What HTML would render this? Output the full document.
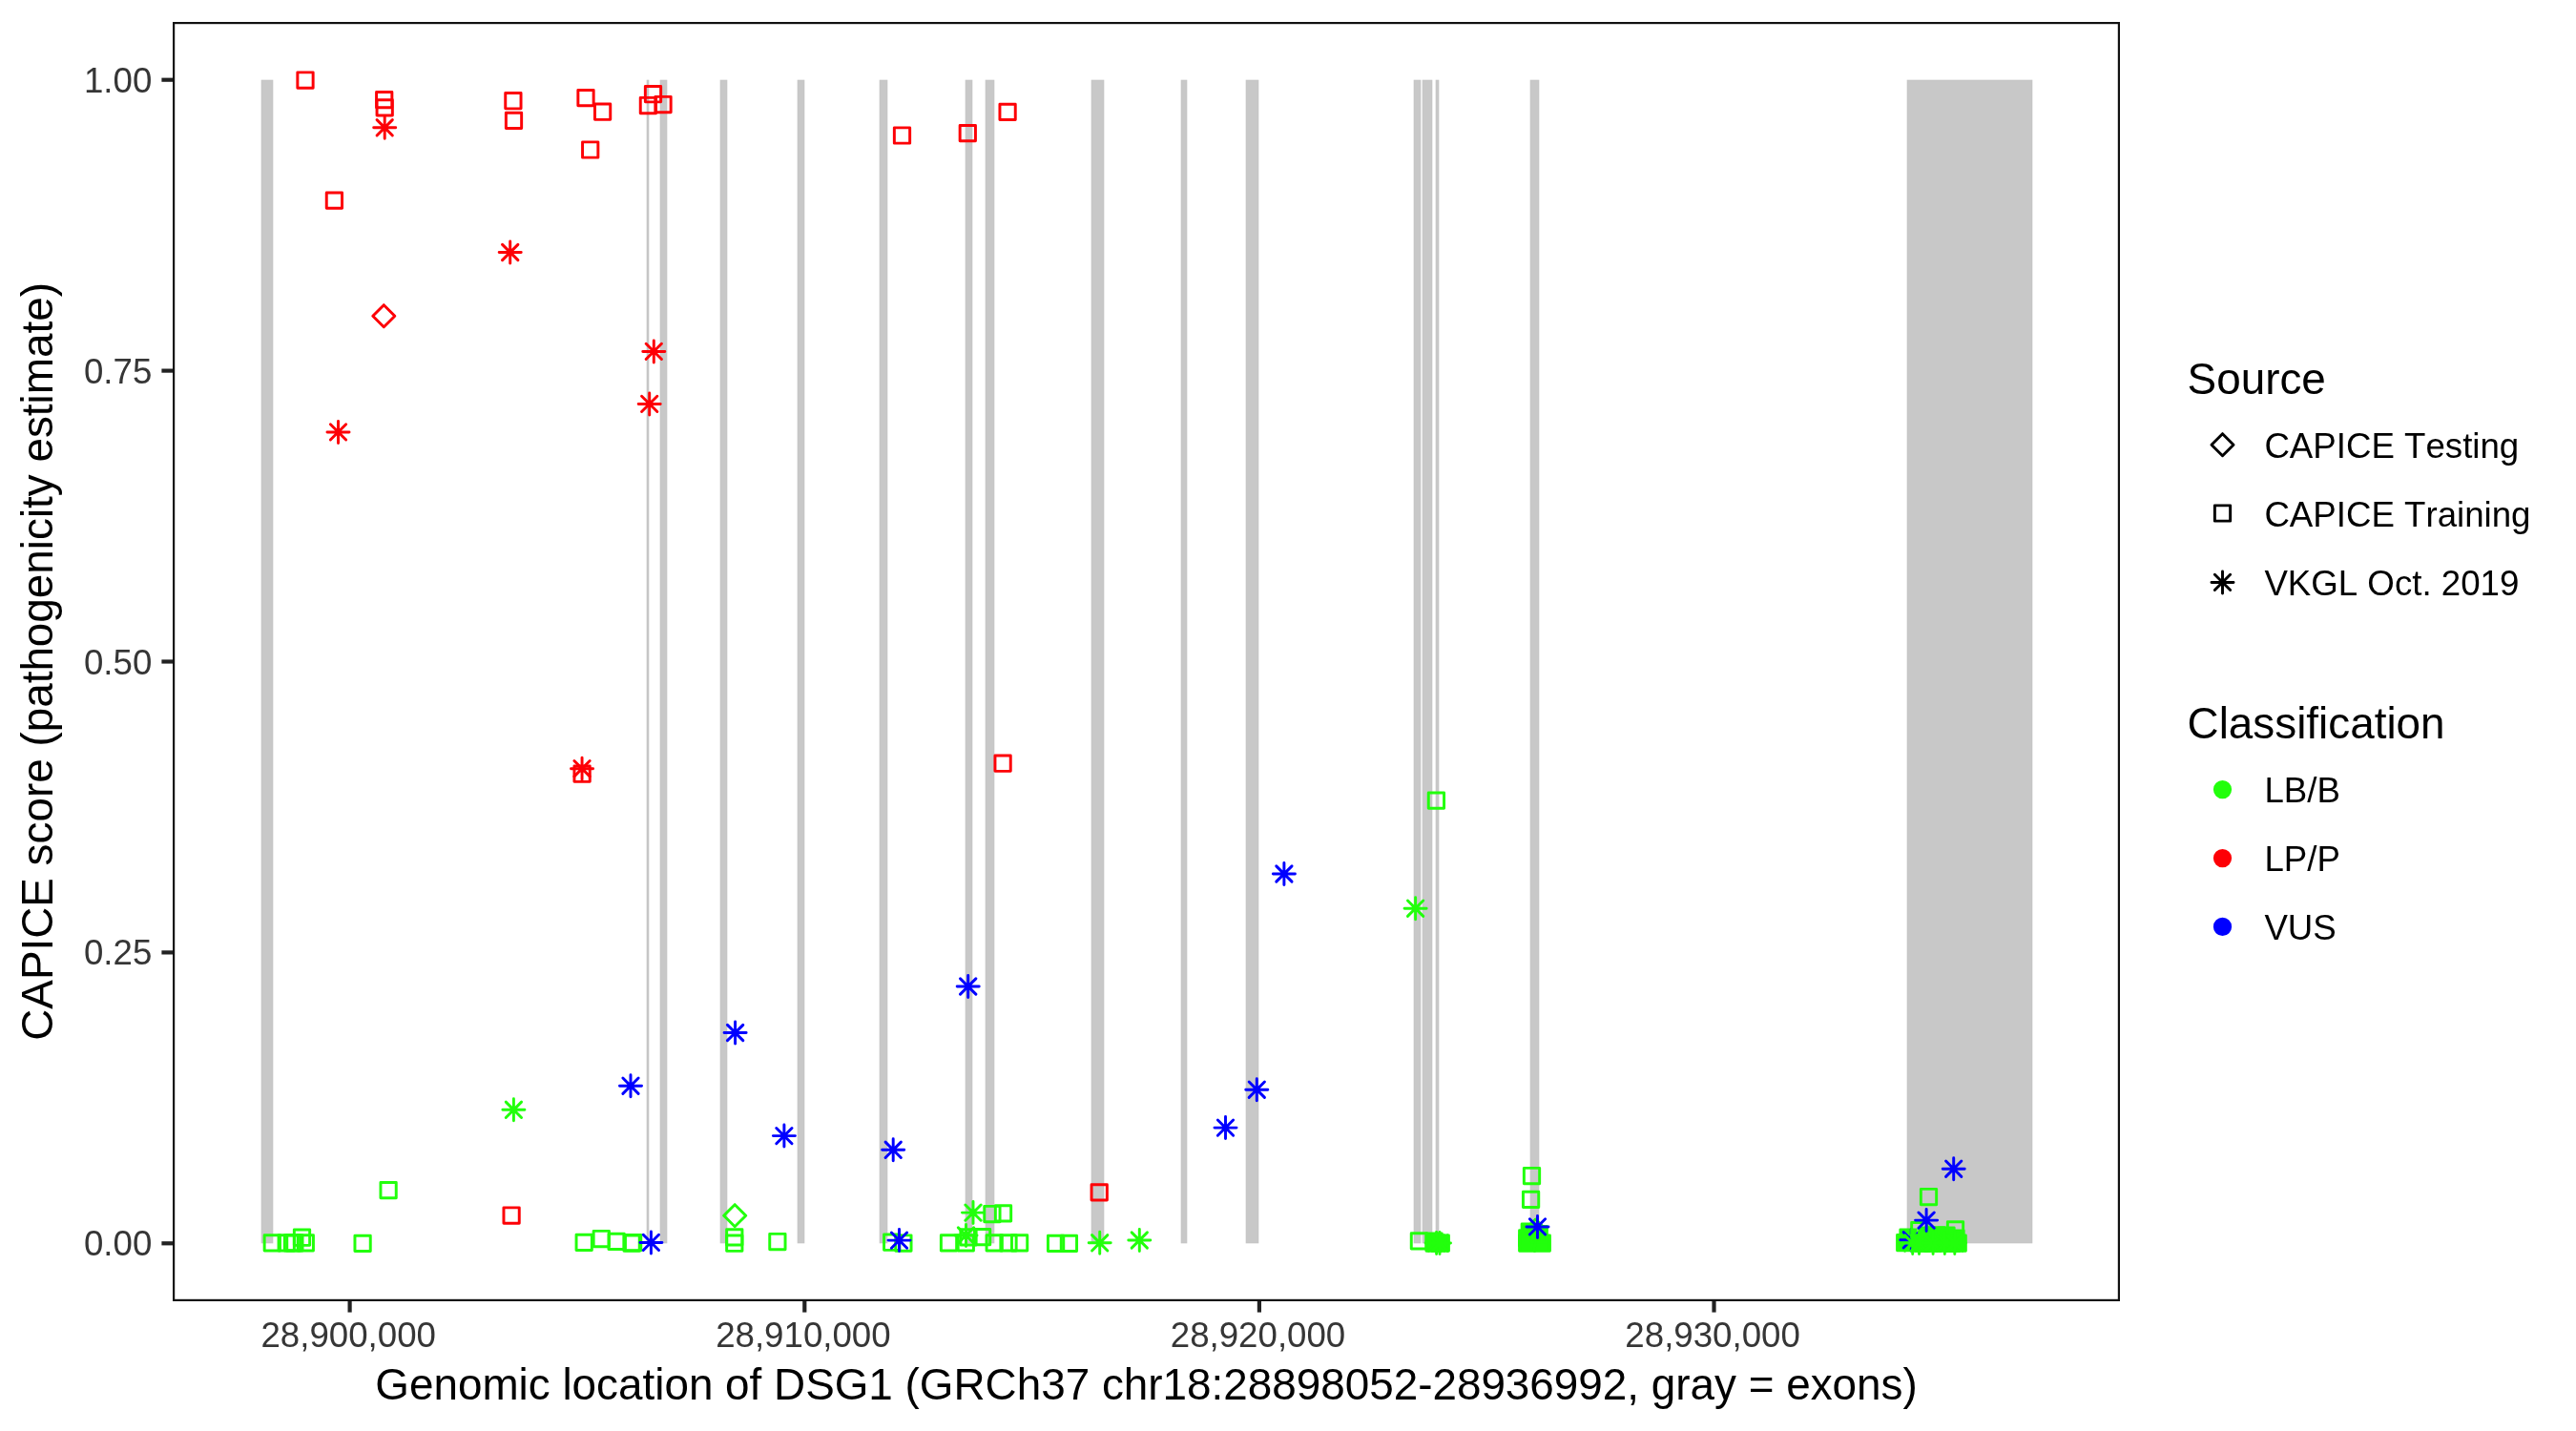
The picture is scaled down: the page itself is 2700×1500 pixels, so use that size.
<!DOCTYPE html>
<html><head><meta charset="utf-8"><title>CAPICE DSG1</title>
<style>
html,body{margin:0;padding:0;background:#fff;}
svg{display:block;will-change:transform;}
text{font-family:"Liberation Sans",sans-serif;font-kerning:none;font-feature-settings:"kern" 0;}
</style></head><body>
<svg width="2700" height="1500" viewBox="0 0 2700 1500">
<rect x="0" y="0" width="2700" height="1500" fill="#FFFFFF"/>
<g fill="#C8C8C8" stroke="#C4C4C4" stroke-width="0.6">
<rect x="274" y="84" width="12" height="1219"/>
<rect x="678" y="84" width="2" height="1219"/>
<rect x="692" y="84" width="7" height="1219"/>
<rect x="755" y="84" width="7" height="1219"/>
<rect x="836" y="84" width="7" height="1219"/>
<rect x="922" y="84" width="8" height="1219"/>
<rect x="1012" y="84" width="7" height="1219"/>
<rect x="1033" y="84" width="9" height="1219"/>
<rect x="1144" y="84" width="13" height="1219"/>
<rect x="1238" y="84" width="6" height="1219"/>
<rect x="1306" y="84" width="13" height="1219"/>
<rect x="1482" y="84" width="7" height="1219"/>
<rect x="1491" y="84" width="10" height="1219"/>
<rect x="1505" y="84" width="3" height="1219"/>
<rect x="1604" y="84" width="9" height="1219"/>
<rect x="1999" y="84" width="131" height="1219"/>
</g>
<g stroke-width="2.95" stroke-linecap="round" stroke-linejoin="round">
<rect x="277.16" y="1294.76" width="16.29" height="16.29" fill="none" stroke="#22FF0C"/>
<rect x="292.06" y="1294.76" width="16.29" height="16.29" fill="none" stroke="#22FF0C"/>
<rect x="298.36" y="1294.76" width="16.29" height="16.29" fill="none" stroke="#22FF0C"/>
<rect x="300.75" y="1294.76" width="16.29" height="16.29" fill="none" stroke="#22FF0C"/>
<rect x="312.16" y="1294.76" width="16.29" height="16.29" fill="none" stroke="#22FF0C"/>
<rect x="308.36" y="1289.06" width="16.29" height="16.29" fill="none" stroke="#22FF0C"/>
<rect x="371.96" y="1295.15" width="16.29" height="16.29" fill="none" stroke="#22FF0C"/>
<rect x="398.96" y="1239.45" width="16.29" height="16.29" fill="none" stroke="#22FF0C"/>
<rect x="604.06" y="1294.26" width="16.29" height="16.29" fill="none" stroke="#22FF0C"/>
<rect x="622.15" y="1290.36" width="16.29" height="16.29" fill="none" stroke="#22FF0C"/>
<rect x="637.96" y="1293.15" width="16.29" height="16.29" fill="none" stroke="#22FF0C"/>
<rect x="653.96" y="1294.95" width="16.29" height="16.29" fill="none" stroke="#22FF0C"/>
<rect x="655.46" y="1294.45" width="16.29" height="16.29" fill="none" stroke="#22FF0C"/>
<rect x="761.65" y="1288.65" width="16.29" height="16.29" fill="none" stroke="#22FF0C"/>
<rect x="761.65" y="1295.06" width="16.29" height="16.29" fill="none" stroke="#22FF0C"/>
<rect x="806.75" y="1293.36" width="16.29" height="16.29" fill="none" stroke="#22FF0C"/>
<path d="M770.2 1262.68L781.72 1274.2L770.2 1285.72L758.68 1274.2Z" fill="none" stroke="#22FF0C"/>
<rect x="926.56" y="1294.06" width="16.29" height="16.29" fill="none" stroke="#22FF0C"/>
<rect x="938.75" y="1294.86" width="16.29" height="16.29" fill="none" stroke="#22FF0C"/>
<path d="M530.25 1155.15L546.54 1171.44M530.25 1171.44L546.54 1155.15M526.88 1163.3L549.92 1163.3M538.4 1151.78L538.4 1174.82" fill="none" stroke="#22FF0C"/>
<rect x="986.36" y="1294.76" width="16.29" height="16.29" fill="none" stroke="#22FF0C"/>
<rect x="1004.15" y="1294.76" width="16.29" height="16.29" fill="none" stroke="#22FF0C"/>
<rect x="1034.06" y="1294.76" width="16.29" height="16.29" fill="none" stroke="#22FF0C"/>
<rect x="1048.86" y="1294.76" width="16.29" height="16.29" fill="none" stroke="#22FF0C"/>
<rect x="1060.45" y="1294.76" width="16.29" height="16.29" fill="none" stroke="#22FF0C"/>
<rect x="1006.86" y="1288.65" width="16.29" height="16.29" fill="none" stroke="#22FF0C"/>
<rect x="1021.45" y="1288.45" width="16.29" height="16.29" fill="none" stroke="#22FF0C"/>
<path d="M1004.36 1286.86L1020.64 1303.14M1004.36 1303.14L1020.64 1286.86M1000.98 1295L1024.02 1295M1012.5 1283.48L1012.5 1306.52" fill="none" stroke="#22FF0C"/>
<path d="M1011.86 1262.95L1028.14 1279.24M1011.86 1279.24L1028.14 1262.95M1008.48 1271.1L1031.52 1271.1M1020 1259.58L1020 1282.62" fill="none" stroke="#22FF0C"/>
<rect x="1031.76" y="1264.36" width="16.29" height="16.29" fill="none" stroke="#22FF0C"/>
<rect x="1043.36" y="1263.65" width="16.29" height="16.29" fill="none" stroke="#22FF0C"/>
<rect x="1098.45" y="1295.15" width="16.29" height="16.29" fill="none" stroke="#22FF0C"/>
<rect x="1112.26" y="1295.15" width="16.29" height="16.29" fill="none" stroke="#22FF0C"/>
<path d="M1144.56 1294.65L1160.85 1310.94M1144.56 1310.94L1160.85 1294.65M1141.18 1302.8L1164.22 1302.8M1152.7 1291.28L1152.7 1314.32" fill="none" stroke="#22FF0C"/>
<path d="M1186.15 1291.86L1202.44 1308.14M1186.15 1308.14L1202.44 1291.86M1182.78 1300L1205.82 1300M1194.3 1288.48L1194.3 1311.52" fill="none" stroke="#22FF0C"/>
<path d="M1475.45 944.06L1491.74 960.35M1475.45 960.35L1491.74 944.06M1472.08 952.2L1495.12 952.2M1483.6 940.68L1483.6 963.72" fill="none" stroke="#22FF0C"/>
<rect x="1497.26" y="830.96" width="16.29" height="16.29" fill="none" stroke="#22FF0C"/>
<rect x="1479.26" y="1292.76" width="16.29" height="16.29" fill="none" stroke="#22FF0C"/>
<rect x="1494.95" y="1292.86" width="16.29" height="16.29" fill="#22FF0C" stroke="#22FF0C"/>
<rect x="1494.95" y="1295.06" width="16.29" height="16.29" fill="#22FF0C" stroke="#22FF0C"/>
<rect x="1502.15" y="1295.06" width="16.29" height="16.29" fill="#22FF0C" stroke="#22FF0C"/>
<path d="M1497.45 1294.86L1513.74 1311.14M1497.45 1311.14L1513.74 1294.86M1494.08 1303L1517.12 1303M1505.6 1291.48L1505.6 1314.52" fill="none" stroke="#22FF0C"/>
<path d="M1500.86 1294.86L1517.14 1311.14M1500.86 1311.14L1517.14 1294.86M1497.48 1303L1520.52 1303M1509 1291.48L1509 1314.52" fill="none" stroke="#22FF0C"/>
<rect x="1597.36" y="1224.36" width="16.29" height="16.29" fill="none" stroke="#22FF0C"/>
<rect x="1596.45" y="1249.15" width="16.29" height="16.29" fill="none" stroke="#22FF0C"/>
<rect x="1592.56" y="1295.06" width="16.29" height="16.29" fill="#22FF0C" stroke="#22FF0C"/>
<rect x="1608.15" y="1295.06" width="16.29" height="16.29" fill="#22FF0C" stroke="#22FF0C"/>
<rect x="1595.15" y="1282.95" width="16.29" height="16.29" fill="#22FF0C" stroke="#22FF0C"/>
<rect x="1592.56" y="1289.65" width="16.29" height="16.29" fill="#22FF0C" stroke="#22FF0C"/>
<rect x="1605.06" y="1285.45" width="16.29" height="16.29" fill="#22FF0C" stroke="#22FF0C"/>
<path d="M1609.5 1278.08L1621.02 1289.6L1609.5 1301.12L1597.98 1289.6Z" fill="none" stroke="#22FF0C"/>
<rect x="2013.36" y="1246.36" width="16.29" height="16.29" fill="none" stroke="#22FF0C"/>
<rect x="1988.56" y="1294.56" width="16.29" height="16.29" fill="#22FF0C" stroke="#22FF0C"/>
<rect x="1991.86" y="1288.86" width="16.29" height="16.29" fill="#22FF0C" stroke="#22FF0C"/>
<path d="M1995.15 1291.65L2011.44 1307.94M1995.15 1307.94L2011.44 1291.65M1991.78 1299.8L2014.82 1299.8M2003.3 1288.28L2003.3 1311.32" fill="none" stroke="#0000FF"/>
<rect x="2006.26" y="1294.86" width="16.29" height="16.29" fill="#22FF0C" stroke="#22FF0C"/>
<rect x="2007.86" y="1294.86" width="16.29" height="16.29" fill="#22FF0C" stroke="#22FF0C"/>
<rect x="2017.86" y="1294.86" width="16.29" height="16.29" fill="#22FF0C" stroke="#22FF0C"/>
<rect x="2027.86" y="1294.86" width="16.29" height="16.29" fill="#22FF0C" stroke="#22FF0C"/>
<rect x="2037.86" y="1294.86" width="16.29" height="16.29" fill="#22FF0C" stroke="#22FF0C"/>
<rect x="2044.05" y="1294.86" width="16.29" height="16.29" fill="#22FF0C" stroke="#22FF0C"/>
<rect x="2011.86" y="1286.86" width="16.29" height="16.29" fill="#22FF0C" stroke="#22FF0C"/>
<rect x="2021.86" y="1286.65" width="16.29" height="16.29" fill="#22FF0C" stroke="#22FF0C"/>
<rect x="2031.86" y="1286.86" width="16.29" height="16.29" fill="#22FF0C" stroke="#22FF0C"/>
<rect x="2041.86" y="1289.86" width="16.29" height="16.29" fill="#22FF0C" stroke="#22FF0C"/>
<rect x="2003.65" y="1281.56" width="16.29" height="16.29" fill="none" stroke="#22FF0C"/>
<rect x="2041.36" y="1280.76" width="16.29" height="16.29" fill="none" stroke="#22FF0C"/>
<path d="M1996.56 1294.86L2012.85 1311.14M1996.56 1311.14L2012.85 1294.86M1993.18 1303L2016.22 1303M2004.7 1291.48L2004.7 1314.52" fill="none" stroke="#22FF0C"/>
<path d="M2003.36 1294.86L2019.64 1311.14M2003.36 1311.14L2019.64 1294.86M1999.98 1303L2023.02 1303M2011.5 1291.48L2011.5 1314.52" fill="none" stroke="#22FF0C"/>
<path d="M2017.95 1294.86L2034.24 1311.14M2017.95 1311.14L2034.24 1294.86M2014.58 1303L2037.62 1303M2026.1 1291.48L2026.1 1314.52" fill="none" stroke="#22FF0C"/>
<path d="M2030.15 1294.86L2046.44 1311.14M2030.15 1311.14L2046.44 1294.86M2026.78 1303L2049.82 1303M2038.3 1291.48L2038.3 1314.52" fill="none" stroke="#22FF0C"/>
<path d="M2040.66 1294.86L2056.95 1311.14M2040.66 1311.14L2056.95 1294.86M2037.28 1303L2060.32 1303M2048.8 1291.48L2048.8 1314.52" fill="none" stroke="#22FF0C"/>
<rect x="311.86" y="75.86" width="16.29" height="16.29" fill="none" stroke="#FD0006"/>
<rect x="394.56" y="96.45" width="16.29" height="16.29" fill="none" stroke="#FD0006"/>
<rect x="395.06" y="104.66" width="16.29" height="16.29" fill="none" stroke="#FD0006"/>
<rect x="529.75" y="97.56" width="16.29" height="16.29" fill="none" stroke="#FD0006"/>
<rect x="530.36" y="118.26" width="16.29" height="16.29" fill="none" stroke="#FD0006"/>
<rect x="342.25" y="201.95" width="16.29" height="16.29" fill="none" stroke="#FD0006"/>
<rect x="605.86" y="94.45" width="16.29" height="16.29" fill="none" stroke="#FD0006"/>
<rect x="623.46" y="109.06" width="16.29" height="16.29" fill="none" stroke="#FD0006"/>
<rect x="610.56" y="148.85" width="16.29" height="16.29" fill="none" stroke="#FD0006"/>
<rect x="676.36" y="90.56" width="16.29" height="16.29" fill="none" stroke="#FD0006"/>
<rect x="671.25" y="102.36" width="16.29" height="16.29" fill="none" stroke="#FD0006"/>
<rect x="686.86" y="101.36" width="16.29" height="16.29" fill="none" stroke="#FD0006"/>
<rect x="937.36" y="133.85" width="16.29" height="16.29" fill="none" stroke="#FD0006"/>
<rect x="1006.15" y="131.45" width="16.29" height="16.29" fill="none" stroke="#FD0006"/>
<rect x="1047.95" y="109.16" width="16.29" height="16.29" fill="none" stroke="#FD0006"/>
<path d="M395.06 125.66L411.34 141.95M395.06 141.95L411.34 125.66M391.68 133.8L414.72 133.8M403.2 122.28L403.2 145.32" fill="none" stroke="#FD0006"/>
<path d="M346.36 444.75L362.64 461.04M346.36 461.04L362.64 444.75M342.98 452.9L366.02 452.9M354.5 441.38L354.5 464.42" fill="none" stroke="#FD0006"/>
<path d="M526.56 256.36L542.85 272.64M526.56 272.64L542.85 256.36M523.18 264.5L546.22 264.5M534.7 252.98L534.7 276.02" fill="none" stroke="#FD0006"/>
<path d="M677.15 360.25L693.44 376.54M677.15 376.54L693.44 360.25M673.78 368.4L696.82 368.4M685.3 356.88L685.3 379.92" fill="none" stroke="#FD0006"/>
<path d="M672.56 415.25L688.85 431.54M672.56 431.54L688.85 415.25M669.18 423.4L692.22 423.4M680.7 411.88L680.7 434.92" fill="none" stroke="#FD0006"/>
<path d="M402.3 319.68L413.82 331.2L402.3 342.72L390.78 331.2Z" fill="none" stroke="#FD0006"/>
<rect x="601.96" y="803.06" width="16.29" height="16.29" fill="none" stroke="#FD0006"/>
<path d="M601.9 797.56L618.19 813.85M601.9 813.85L618.19 797.56M598.53 805.7L621.57 805.7M610.05 794.18L610.05 817.22" fill="none" stroke="#FD0006"/>
<rect x="1042.95" y="792.06" width="16.29" height="16.29" fill="none" stroke="#FD0006"/>
<rect x="527.96" y="1265.86" width="16.29" height="16.29" fill="none" stroke="#FD0006"/>
<rect x="1144.06" y="1241.76" width="16.29" height="16.29" fill="none" stroke="#FD0006"/>
<path d="M652.86 1130.06L669.14 1146.35M652.86 1146.35L669.14 1130.06M649.48 1138.2L672.52 1138.2M661 1126.68L661 1149.72" fill="none" stroke="#0000FF"/>
<path d="M674.25 1294.26L690.54 1310.55M674.25 1310.55L690.54 1294.26M670.88 1302.4L693.92 1302.4M682.4 1290.88L682.4 1313.92" fill="none" stroke="#0000FF"/>
<path d="M762.46 1074.36L778.75 1090.64M762.46 1090.64L778.75 1074.36M759.08 1082.5L782.12 1082.5M770.6 1070.98L770.6 1094.02" fill="none" stroke="#0000FF"/>
<path d="M813.75 1182.45L830.04 1198.74M813.75 1198.74L830.04 1182.45M810.38 1190.6L833.42 1190.6M821.9 1179.08L821.9 1202.12" fill="none" stroke="#0000FF"/>
<path d="M928.06 1197.15L944.35 1213.44M928.06 1213.44L944.35 1197.15M924.68 1205.3L947.72 1205.3M936.2 1193.78L936.2 1216.82" fill="none" stroke="#0000FF"/>
<path d="M934.36 1291.95L950.64 1308.24M934.36 1308.24L950.64 1291.95M930.98 1300.1L954.02 1300.1M942.5 1288.58L942.5 1311.62" fill="none" stroke="#0000FF"/>
<path d="M1006.56 1025.86L1022.85 1042.14M1006.56 1042.14L1022.85 1025.86M1003.18 1034L1026.22 1034M1014.7 1022.48L1014.7 1045.52" fill="none" stroke="#0000FF"/>
<path d="M1337.76 907.86L1354.05 924.14M1337.76 924.14L1354.05 907.86M1334.38 916L1357.42 916M1345.9 904.48L1345.9 927.52" fill="none" stroke="#0000FF"/>
<path d="M1309.15 1134.06L1325.44 1150.35M1309.15 1150.35L1325.44 1134.06M1305.78 1142.2L1328.82 1142.2M1317.3 1130.68L1317.3 1153.72" fill="none" stroke="#0000FF"/>
<path d="M1276.36 1173.95L1292.64 1190.24M1276.36 1190.24L1292.64 1173.95M1272.98 1182.1L1296.02 1182.1M1284.5 1170.58L1284.5 1193.62" fill="none" stroke="#0000FF"/>
<path d="M1603.36 1277.76L1619.64 1294.05M1603.36 1294.05L1619.64 1277.76M1599.98 1285.9L1623.02 1285.9M1611.5 1274.38L1611.5 1297.42" fill="none" stroke="#0000FF"/>
<path d="M2039.56 1217.06L2055.85 1233.35M2039.56 1233.35L2055.85 1217.06M2036.18 1225.2L2059.22 1225.2M2047.7 1213.68L2047.7 1236.72" fill="none" stroke="#0000FF"/>
<path d="M2010.95 1270.95L2027.24 1287.24M2010.95 1287.24L2027.24 1270.95M2007.58 1279.1L2030.62 1279.1M2019.1 1267.58L2019.1 1290.62" fill="none" stroke="#0000FF"/>
</g>
<rect x="182.1" y="24.1" width="2038.8" height="1338.8" fill="none" stroke="#111111" stroke-width="2.2"/>
<g stroke="#222222" stroke-width="4.2">
<line x1="169.4" y1="83.7" x2="181" y2="83.7"/>
<line x1="169.4" y1="388.6" x2="181" y2="388.6"/>
<line x1="169.4" y1="693.5" x2="181" y2="693.5"/>
<line x1="169.4" y1="998.4" x2="181" y2="998.4"/>
<line x1="169.4" y1="1303.3" x2="181" y2="1303.3"/>
<line x1="366.6" y1="1364" x2="366.6" y2="1375.6"/>
<line x1="843.3" y1="1364" x2="843.3" y2="1375.6"/>
<line x1="1319.9" y1="1364" x2="1319.9" y2="1375.6"/>
<line x1="1796.5" y1="1364" x2="1796.5" y2="1375.6"/>
</g>
<g fill="#363636" font-size="36.67px">
<text x="159.3" y="96.7" text-anchor="end">1.00</text>
<text x="159.3" y="401.6" text-anchor="end">0.75</text>
<text x="159.3" y="706.5" text-anchor="end">0.50</text>
<text x="159.3" y="1011.4" text-anchor="end">0.25</text>
<text x="159.3" y="1316.3" text-anchor="end">0.00</text>
<text x="365.2" y="1412.3" text-anchor="middle">28,900,000</text>
<text x="841.9" y="1412.3" text-anchor="middle">28,910,000</text>
<text x="1318.5" y="1412.3" text-anchor="middle">28,920,000</text>
<text x="1795.1" y="1412.3" text-anchor="middle">28,930,000</text>
</g>
<text x="1201.5" y="1467" text-anchor="middle" font-size="45.83px" fill="#000">Genomic location of DSG1 (GRCh37 chr18:28898052-28936992, gray = exons)</text>
<text transform="translate(55.1 693.4) rotate(-90)" x="0" y="0" text-anchor="middle" font-size="45.83px" fill="#000">CAPICE score (pathogenicity estimate)</text>
<g fill="#000">
<text x="2292.6" y="413.2" font-size="45.83px">Source</text>
<text x="2292.6" y="773.8" font-size="45.83px">Classification</text>
<text x="2373.4" y="479.7" font-size="36.67px">CAPICE Testing</text>
<text x="2373.4" y="551.7" font-size="36.67px">CAPICE Training</text>
<text x="2373.4" y="624.1" font-size="36.67px">VKGL Oct. 2019</text>
<text x="2373.4" y="840.9" font-size="36.67px">LB/B</text>
<text x="2373.4" y="912.7" font-size="36.67px">LP/P</text>
<text x="2373.4" y="984.5" font-size="36.67px">VUS</text>
</g>
<g stroke-width="2.95" stroke-linecap="round" stroke-linejoin="round">
<path d="M2329.5 454.68L2341.02 466.2L2329.5 477.72L2317.98 466.2Z" fill="none" stroke="#000000"/>
<rect x="2321.36" y="529.86" width="16.29" height="16.29" fill="none" stroke="#000000"/>
<path d="M2321.36 602.25L2337.64 618.54M2321.36 618.54L2337.64 602.25M2317.98 610.4L2341.02 610.4M2329.5 598.88L2329.5 621.92" fill="none" stroke="#000000"/>
<circle cx="2329.5" cy="827.6" r="8.14" fill="#22FF0C" stroke="#22FF0C"/>
<circle cx="2329.5" cy="899.6" r="8.14" fill="#FD0006" stroke="#FD0006"/>
<circle cx="2329.5" cy="971.4" r="8.14" fill="#0000FF" stroke="#0000FF"/>
</g>
</svg>
</body></html>
